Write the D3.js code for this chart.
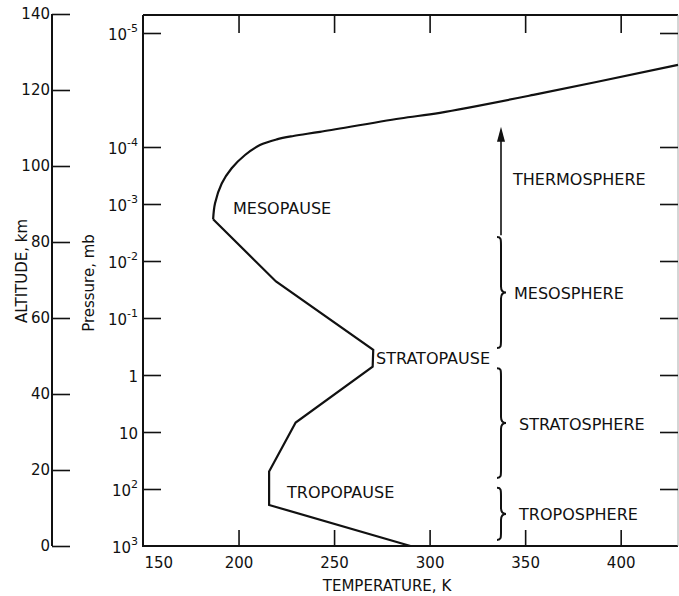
<!DOCTYPE html>
<html>
<head>
<meta charset="utf-8">
<script src="https://cdn.jsdelivr.net/npm/d3@7/dist/d3.min.js"></script>
<style>
  html, body { margin: 0; padding: 0; background: #fff; }
  svg { display: block; }
  text { font-family: "DejaVu Sans", sans-serif; fill: #111; }
</style>
</head>
<body>
<svg id="chart" width="679" height="596"></svg>
<script>
// ---- data ----
const temperatureK = [290, 216, 216, 229.9, 270.2, 270.5, 219.6, 186.7];
const altitudeKm   = [0, 10.8, 19.6, 32.5, 47.2, 51.6, 69.6, 86];
// smooth thermospheric branch, starting at the mesopause
const upperTemperatureK = [186.7, 187.7, 191.2, 196.4, 203.4, 211.2, 220, 228.7, 242.6, 284.5, 305.4, 354.3, 430];
const upperAltitudeKm   = [86, 90.2, 95.4, 99.4, 102.9, 105.5, 107, 107.9, 109, 112.5, 114, 118.7, 126.6];

const altitudeTicks = [0, 20, 40, 60, 80, 100, 120, 140];
const temperatureTicks = [150, 200, 250, 300, 350, 400];
const pressureLabels = [
  ["10", "3"], ["10", "2"], ["10", ""], ["1", ""], ["10", "-1"],
  ["10", "-2"], ["10", "-3"], ["10", "-4"], ["10", "-5"]
];
const pressureAltKm = [0, 15, 30, 45, 60, 75, 90, 105, 135];

const layerNames  = ["TROPOSPHERE", "STRATOSPHERE", "MESOSPHERE", "THERMOSPHERE"];
const layerBaseKm = [1.6, 17.9, 52.1, 81.8];
const layerTopKm  = [15.3, 46.8, 81.3, 110.3];

const pauseNames = ["TROPOPAUSE", "STRATOPAUSE", "MESOPAUSE"];

// ---- layout ----
const svg = d3.select("#chart");
const L = 143, R = 678, T = 15, B = 546;
const x = d3.scaleLinear().domain([150, 430]).range([L, R]);
const y = d3.scaleLinear().domain([0, 140]).range([B, 14]);

// box
svg.append("line").attr("x1", L).attr("x2", L).attr("y1", T).attr("y2", B)
  .attr("stroke", "#111").attr("stroke-width", 2);
svg.append("line").attr("x1", L).attr("x2", R).attr("y1", T).attr("y2", T)
  .attr("stroke", "#111").attr("stroke-width", 2);
svg.append("line").attr("x1", L - 1).attr("x2", R).attr("y1", B).attr("y2", B)
  .attr("stroke", "#111").attr("stroke-width", 2);
svg.append("line").attr("x1", R).attr("x2", R).attr("y1", T).attr("y2", B)
  .attr("stroke", "#aaa").attr("stroke-width", 1);

function styleAxis(g) {
  g.select(".domain").remove();
  g.selectAll(".tick line").attr("stroke", "#111").attr("stroke-width", 1.6);
  g.selectAll("text").attr("font-family", "DejaVu Sans").attr("fill", "#111");
}

// bottom temperature axis
const gb = svg.append("g").attr("transform", `translate(0,${B})`)
  .call(d3.axisBottom(x).tickValues(temperatureTicks).tickSize(-16).tickSizeOuter(0)
    .tickPadding(10).tickFormat(d3.format("d")))
  .call(styleAxis);
gb.selectAll("text").attr("font-size", 15).attr("dy", "0.71em").attr("y", 11);
gb.selectAll(".tick").filter(d => d === 150).select("line").remove();
gb.selectAll(".tick").filter(d => d === 150).select("text")
  .attr("text-anchor", "start").attr("x", 1);

// top temperature ticks
svg.append("g").attr("transform", `translate(0,${T})`)
  .call(d3.axisTop(x).tickValues(temperatureTicks.slice(1)).tickSize(-18).tickSizeOuter(0).tickFormat(""))
  .call(styleAxis);

// pressure ticks left and right
svg.append("g").attr("transform", `translate(${L},0)`)
  .call(d3.axisLeft(y).tickValues(pressureAltKm.slice(1)).tickSize(-18).tickSizeOuter(0).tickFormat(""))
  .call(styleAxis);
svg.append("g").attr("transform", `translate(${R},0)`)
  .call(d3.axisRight(y).tickValues(pressureAltKm.slice(1)).tickSize(-18).tickSizeOuter(0).tickFormat(""))
  .call(styleAxis);

// pressure labels
const pl = svg.append("g");
pressureLabels.forEach((p, i) => {
  const t = pl.append("text").attr("x", 138).attr("y", y(pressureAltKm[i]) + 7)
    .attr("text-anchor", "end").attr("font-size", 15);
  t.append("tspan").text(p[0]);
  if (p[1]) t.append("tspan").attr("dy", -8).attr("font-size", 11).text(p[1]);
});

// altitude axis
const AX = 52;
svg.append("line").attr("x1", AX).attr("x2", AX).attr("y1", y(140)).attr("y2", y(0))
  .attr("stroke", "#111").attr("stroke-width", 2);
const ga = svg.append("g").attr("transform", `translate(${AX},0)`)
  .call(d3.axisLeft(y).tickValues(altitudeTicks).tickSize(-18).tickSizeOuter(0).tickPadding(2)
    .tickFormat(d3.format("d")))
  .call(styleAxis);
ga.selectAll("text").attr("font-size", 15);

// axis titles
svg.append("text").attr("transform", `translate(27,271) rotate(-90)`)
  .attr("text-anchor", "middle").attr("font-size", 15).text("ALTITUDE, km");
svg.append("text").attr("transform", `translate(94,283) rotate(-90)`)
  .attr("text-anchor", "middle").attr("font-size", 15).text("Pressure, mb");
svg.append("text").attr("x", 387).attr("y", 591)
  .attr("text-anchor", "middle").attr("font-size", 15).text("TEMPERATURE, K");

// temperature profile
const lower = temperatureK.map((t, i) => [x(t), y(altitudeKm[i])]);
const upper = upperTemperatureK.map((t, i) => [x(t), y(upperAltitudeKm[i])]);
svg.append("path").attr("d", d3.line().curve(d3.curveLinear)(lower))
  .attr("fill", "none").attr("stroke", "#111").attr("stroke-width", 2.2).attr("stroke-linejoin", "miter");
svg.append("path").attr("d", d3.line().curve(d3.curveCatmullRom.alpha(0.5))(upper))
  .attr("fill", "none").attr("stroke", "#111").attr("stroke-width", 2.2);

// pause labels
const pauseX = [287, 376, 233];
const pauseY = [492, 358, 208];
pauseNames.forEach((n, i) => {
  svg.append("text").attr("x", pauseX[i]).attr("y", pauseY[i])
    .attr("dominant-baseline", "central").attr("font-size", 16).text(n);
});

// layer braces, arrow and labels
const SX = 501;
function brace(y1, y2) {
  const ym = (y1 + y2) / 2;
  return `M${SX - 4},${y1} C${SX},${y1} ${SX},${y1 + 2} ${SX},${y1 + 8}` +
    ` L${SX},${ym - 6} C${SX},${ym - 1} ${SX + 2},${ym} ${SX + 5},${ym}` +
    ` C${SX + 2},${ym} ${SX},${ym + 1} ${SX},${ym + 6}` +
    ` L${SX},${y2 - 8} C${SX},${y2 - 2} ${SX},${y2} ${SX - 4},${y2}`;
}
const labelX = [519, 519, 514, 513];
layerNames.forEach((n, i) => {
  const y1 = y(layerTopKm[i]), y2 = y(layerBaseKm[i]);
  if (i < 3) {
    svg.append("path").attr("d", brace(y1, y2)).attr("fill", "none")
      .attr("stroke", "#111").attr("stroke-width", 2);
    svg.append("text").attr("x", labelX[i]).attr("y", (y1 + y2) / 2 + 1)
      .attr("dominant-baseline", "central").attr("font-size", 16).text(n);
  } else {
    svg.append("line").attr("x1", SX).attr("x2", SX).attr("y1", y2).attr("y2", y1 + 10)
      .attr("stroke", "#111").attr("stroke-width", 1.6);
    svg.append("path").attr("d", `M${SX},${y1} L${SX - 4},${y1 + 15} L${SX + 4},${y1 + 15} Z`)
      .attr("fill", "#111");
    svg.append("text").attr("x", labelX[i]).attr("y", 179)
      .attr("dominant-baseline", "central").attr("font-size", 16).text(n);
  }
});
</script>
</body>
</html>
